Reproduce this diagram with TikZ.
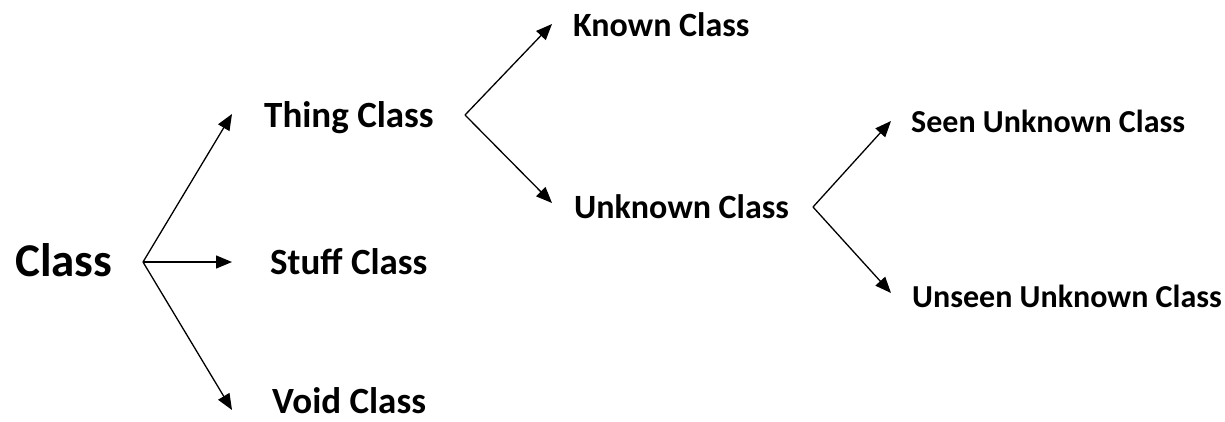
\documentclass[tikz,border=0pt]{standalone}
\usepackage{fontspec}
\setmainfont{Carlito}
\usetikzlibrary{arrows.meta}
\begin{document}
\begin{tikzpicture}[x=1pt,y=-1pt,
  label/.style={anchor=base west,inner sep=0pt,font=\bfseries},
  big/.style={label,font=\fontsize{47}{52}\selectfont\bfseries},
  left/.style={label,font=\fontsize{37}{42}\selectfont\bfseries},
  mid/.style={label,font=\fontsize{34}{40}\selectfont\bfseries},
  small/.style={label,font=\fontsize{32}{36}\selectfont\bfseries},
  arr/.style={line width=1.3pt,-{Triangle[length=16pt,width=13pt]}}]
\useasboundingbox (0,0) rectangle (1225,421);

% labels
\node[big]   (class)   at (15,276)  {Class};
\node[left]  (thing)   at (264,127) {Thing Class};
\node[left]  (stuff)   at (270,274) {Stuff Class};
\node[left]  (void)    at (272,413) {Void Class};
\node[mid]   (known)   at (573,36)  {Known Class};
\node[mid]   (unknown) at (574,218) {Unknown Class};
\node[small] (seen)    at (911,132) {Seen Unknown Class};
\node[small] (unseen)  at (912,307) {Unseen Unknown Class};

% branch points and arrow ends
\coordinate (b1) at (143,262);
\coordinate (b2) at (465,115);
\coordinate (b3) at (813,207);
\coordinate (tThing)   at (232,114);
\coordinate (tStuff)   at (232,262);
\coordinate (tVoid)    at (232,410);
\coordinate (tKnown)   at (552,24);
\coordinate (tUnknown) at (552,203);
\coordinate (tSeen)    at (891,121);
\coordinate (tUnseen)  at (891,293);

\draw[arr] (b1) -- (tThing);
\draw[arr] (b1) -- (tStuff);
\draw[arr] (b1) -- (tVoid);
\draw[arr] (b2) -- (tKnown);
\draw[arr] (b2) -- (tUnknown);
\draw[arr] (b3) -- (tSeen);
\draw[arr] (b3) -- (tUnseen);
\end{tikzpicture}
\end{document}
